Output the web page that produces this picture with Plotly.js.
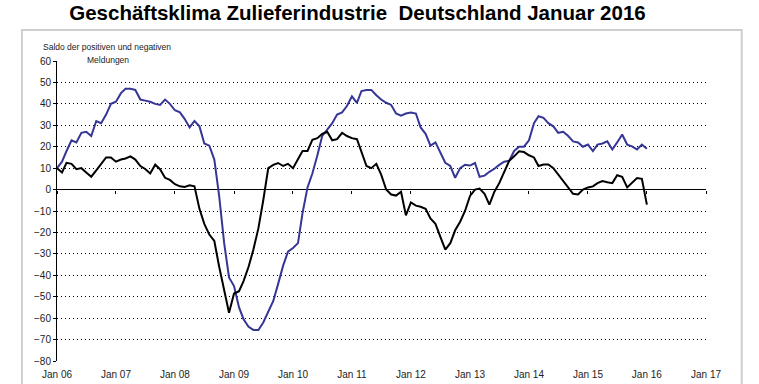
<!DOCTYPE html>
<html>
<head>
<meta charset="utf-8">
<script src="https://cdn.plot.ly/plotly-3.0.1.min.js"></script>
<style>html,body{margin:0;padding:0;background:#fff;}#chart{width:759px;height:384px;}</style>
</head>
<body>
<div id="chart"></div>
<script>
// Monthly values Jan 2006 .. Jan 2016
const startYear = 2006;
const erwartungen = [
  10, 8, 12.5, 12, 9.5, 10, 8, 6, 9, 12, 15, 15,            // 2006
  13, 14, 14.5, 15.5, 14, 11, 9.6, 7.5, 11.6, 9.5, 5.5, 4.5, // 2007
  2.5, 1.5, 1.2, 2, 1.5, -9, -16, -21, -24, -36, -47, -57.5, // 2008
  -48.5, -47.4, -42.7, -36, -28, -18, -5, 10, 11.5, 12.4, 11, 12, // 2009
  10, 14, 18, 18, 23.2, 24, 26, 27, 23, 23.5, 26.5, 25,      // 2010
  24, 23.5, 18, 11, 10, 12, 7, 0, -2.3, -2.8, -1, -12,       // 2011
  -6, -7.5, -8, -9, -13.5, -16, -22, -28, -25, -19, -15, -10, // 2012
  -3, 0, 0.5, -2, -7, -1, 3, 8, 13.5, 15.5, 17.9, 17.5,      // 2013
  16, 15, 11, 11.7, 11.7, 10, 7, 4, 1, -2, -2.3, 0,          // 2014
  1, 1.5, 3, 4, 3.4, 3, 6.7, 6, 1, 3, 5.4, 5,                // 2015
  -7                                                         // 2016
];
const lage = [
  10, 13, 18, 23, 22, 26.5, 27, 25, 32, 31, 35, 40,          // 2006
  41, 45, 47, 47, 46.5, 42, 41.5, 41, 40, 39.5, 42, 40,      // 2007
  37, 36, 33, 29, 32, 29.5, 21.5, 20.5, 14, -3, -25, -41,    // 2008
  -45, -55, -60.5, -64, -65.5, -65.5, -62, -57, -52, -44, -35.5, -29, // 2009
  -27.3, -25, -11, 1, 7.5, 16, 25, 28, 31, 35, 36, 39,       // 2010
  43.5, 40.5, 46, 46.5, 46.5, 44, 42, 40.5, 39.5, 35.5, 34.5, 35.5, // 2011
  36, 35.5, 29, 26, 20.5, 22, 17, 12.5, 11, 5.5, 10, 11.6,   // 2012
  11.2, 12.4, 6, 6.5, 8.3, 9.7, 11.5, 13, 13.5, 18, 20, 20,  // 2013
  23, 31, 34.2, 33.5, 31, 29.5, 26.5, 27, 25, 22.5, 22, 20,  // 2014
  21, 18, 21, 21.5, 22.5, 18.7, 22, 25.7, 21, 20.2, 18.7, 21, // 2015
  19                                                         // 2016
];
const tickYears = [2006, 2007, 2008, 2009, 2010, 2011, 2012, 2013, 2014, 2015, 2016, 2017];
const tickLabels = ['Jan 06','Jan 07','Jan 08','Jan 09','Jan 10','Jan 11','Jan 12','Jan 13','Jan 14','Jan 15','Jan 16','Jan 17'];
const yRange = [-80, 60];

function monthDate(i) {
  const y = startYear + Math.floor(i / 12);
  const m = (i % 12) + 1;
  return y + '-' + String(m).padStart(2, '0') + '-01';
}
const dates = erwartungen.map((_, i) => monthDate(i));
const tickVals = tickYears.map(y => y + '-01-01');
const xRange = [tickVals[0], tickVals[tickVals.length - 1]];

const FONT = 'Liberation Sans, Arial, sans-serif';

const traces = [
  {x: dates, y: lage, type: 'scatter', mode: 'lines', name: 'Lage',
   line: {color: '#363696', width: 2}, xaxis: 'x', yaxis: 'y', hoverinfo: 'skip'},
  {x: dates, y: erwartungen, type: 'scatter', mode: 'lines', name: 'Erwartungen',
   line: {color: '#000000', width: 2}, xaxis: 'x2', yaxis: 'y', hoverinfo: 'skip'}
];

const layout = {
  width: 759, height: 384,
  margin: {l: 57, r: 53, t: 61, b: 23},
  paper_bgcolor: '#ffffff', plot_bgcolor: '#ffffff',
  showlegend: false,
  font: {family: FONT, size: 10, color: '#222'},
  title: {
    text: 'Geschäftsklima Zulieferindustrie\u00a0 Deutschland Januar 2016',
    font: {family: FONT, size: 20.5, color: '#000', weight: 'bold'},
    x: 0.471, xref: 'container', xanchor: 'center',
    y: 0.966, yref: 'container', yanchor: 'middle'
  },
  xaxis: {
    type: 'date', range: xRange,
    tickmode: 'array', tickvals: tickVals, ticktext: tickLabels,
    showgrid: false, zeroline: false, showline: false, ticks: '',
    ticklabelstandoff: 6,
    tickfont: {family: FONT, size: 10, color: '#222'}
  },
  xaxis2: {
    type: 'date', range: xRange, overlaying: 'x', anchor: 'free',
    position: (0 - yRange[0]) / (yRange[1] - yRange[0]),
    tickmode: 'array', tickvals: tickVals,
    showticklabels: false, showgrid: false, zeroline: false, showline: false,
    ticks: 'outside', ticklen: 3, tickcolor: '#000', tickwidth: 1
  },
  yaxis: {
    range: yRange, dtick: 10, tick0: 0,
    showgrid: true, gridcolor: '#000', gridwidth: 1, griddash: '1px,3px',
    zeroline: true, zerolinecolor: '#000', zerolinewidth: 1,
    showline: true, linecolor: '#000', linewidth: 1,
    ticks: 'outside', ticklen: 3, tickcolor: '#000',
    tickfont: {family: FONT, size: 10, color: '#222'}
  },
  shapes: [
    {type: 'rect', xref: 'paper', yref: 'paper', layer: 'below',
     x0: -0.054, x1: 1.055, y0: -0.12, y1: 1.103,
     line: {color: '#cfcfcf', width: 2}}
  ],
  annotations: [
    {text: 'Saldo der positiven und negativen', xref: 'paper', yref: 'paper',
     x: -0.025, y: 1.047, xanchor: 'left', yanchor: 'middle', showarrow: false,
     font: {family: FONT, size: 8.5, color: '#222'}},
    {text: 'Meldungen', xref: 'paper', yref: 'paper',
     x: 0.043, y: 1.004, xanchor: 'left', yanchor: 'middle', showarrow: false,
     font: {family: FONT, size: 8.5, color: '#222'}}
  ]
};

Plotly.newPlot('chart', traces, layout, {displayModeBar: false, staticPlot: true});
</script>
</body>
</html>
